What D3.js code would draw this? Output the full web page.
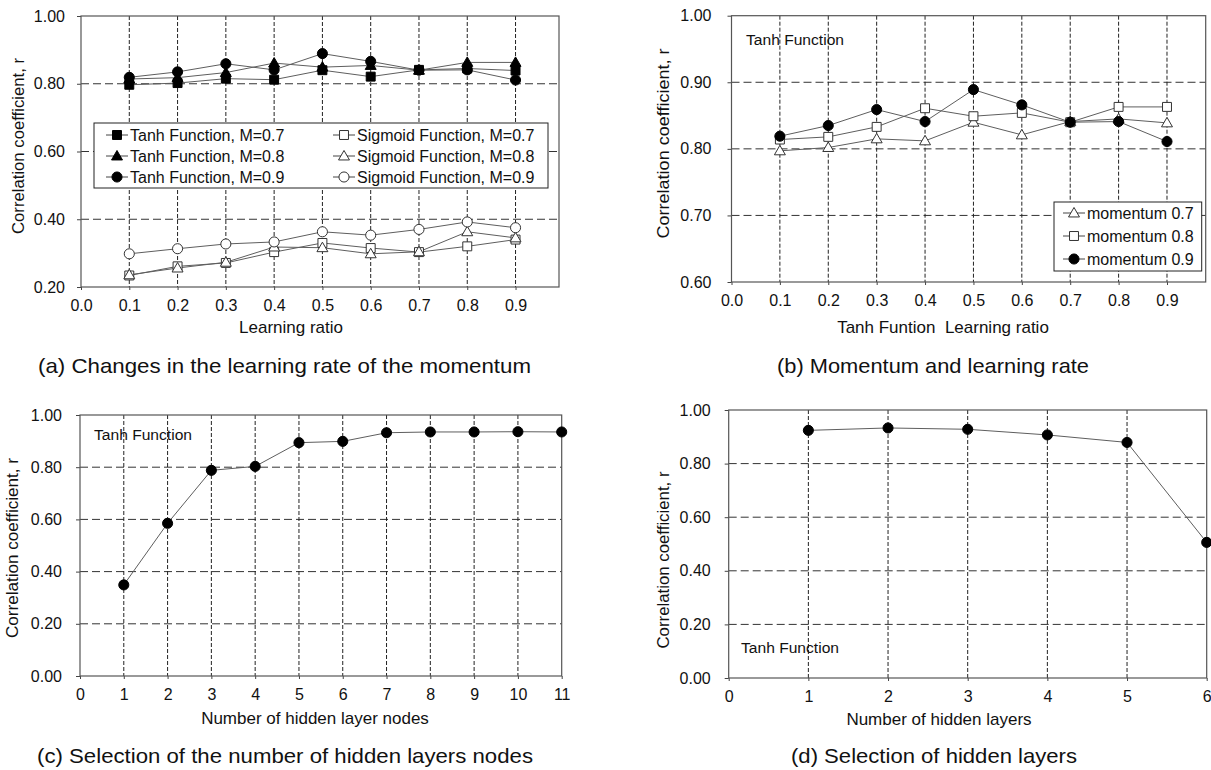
<!DOCTYPE html>
<html>
<head>
<meta charset="utf-8">
<script src="https://cdn.jsdelivr.net/npm/d3@7"></script>
<style>
  body { margin: 0; background: #fff; }
  svg text { font-family: Arial, "Liberation Sans", sans-serif; fill: #111; }
</style>
</head>
<body>
<div id="chart"></div>
<script>
// Learning ratio (x of panels a and b)
const learningRatio = [0.1, 0.2, 0.3, 0.4, 0.5, 0.6, 0.7, 0.8, 0.9];
const ratioTicks = [0, 0.1, 0.2, 0.3, 0.4, 0.5, 0.6, 0.7, 0.8, 0.9];

// Tanh function, momentum 0.7 / 0.8 / 0.9
const tanhM07 = [0.797, 0.802, 0.815, 0.812, 0.840, 0.821, 0.841, 0.845, 0.839];
const tanhM08 = [0.814, 0.818, 0.833, 0.861, 0.849, 0.854, 0.840, 0.863, 0.863];
const tanhM09 = [0.819, 0.835, 0.859, 0.841, 0.889, 0.866, 0.840, 0.841, 0.811];

// Sigmoid function, momentum 0.7 / 0.8 / 0.9
const sigM07 = [0.234, 0.261, 0.271, 0.303, 0.330, 0.315, 0.303, 0.320, 0.340];
const sigM08 = [0.236, 0.256, 0.273, 0.318, 0.316, 0.298, 0.304, 0.363, 0.345];
const sigM09 = [0.298, 0.313, 0.327, 0.333, 0.363, 0.353, 0.370, 0.392, 0.375];

// Hidden layer nodes (panel c)
const hiddenNodes = [1, 2, 3, 4, 5, 6, 7, 8, 9, 10, 11];
const nodeCorr = [0.349, 0.585, 0.788, 0.803, 0.894, 0.899, 0.932, 0.935, 0.935, 0.936, 0.935];
const nodeTicks = [0, 1, 2, 3, 4, 5, 6, 7, 8, 9, 10, 11];

// Hidden layers (panel d)
const hiddenLayers = [1, 2, 3, 4, 5, 6];
const layerCorr = [0.924, 0.933, 0.928, 0.907, 0.879, 0.506];
const layerTicks = [0, 1, 2, 3, 4, 5, 6];

const corrTicksA = [0.2, 0.4, 0.6, 0.8, 1.0];
const corrTicksB = [0.6, 0.7, 0.8, 0.9, 1.0];
const corrTicksCD = [0, 0.2, 0.4, 0.6, 0.8, 1.0];

const svg = d3.select("#chart")
  .append("svg")
  .attr("width", 1211)
  .attr("height", 770);

// marker shapes like Excel
const symbolOf = { square: d3.symbolSquare, triangle: d3.symbolTriangle, circle: d3.symbolCircle };
const sizeOf = { square: 80, triangle: 52, circle: 80 };

function drawMarker(g, shape, filled, cx, cy) {
  g.append("path")
    .attr("d", d3.symbol().type(symbolOf[shape]).size(sizeOf[shape])())
    .attr("transform", `translate(${cx},${cy + (shape === "triangle" ? 0.8 : 0)})`)
    .attr("fill", filled ? "#000" : "#fff")
    .attr("stroke", filled ? "#000" : "#333")
    .attr("stroke-width", 1);
}

function drawPanel(p) {
  const g = svg.append("g");
  const x = d3.scaleLinear().domain(p.xDomain).range([p.left, p.right]);
  const y = d3.scaleLinear().domain(p.yDomain).range([p.bottom, p.top]);

  // horizontal gridlines (long dashes)
  g.selectAll(".hgrid")
    .data(p.yTicks.filter(d => d > p.yDomain[0] && d < p.yDomain[1]))
    .enter().append("line")
    .attr("x1", p.left).attr("x2", p.right)
    .attr("y1", d => y(d)).attr("y2", d => y(d))
    .attr("stroke", "#333").attr("stroke-width", 1)
    .attr("stroke-dasharray", "8,4");

  // vertical gridlines (short dashes)
  g.selectAll(".vgrid")
    .data(p.xTicks.filter(d => x(d) > p.left + 1 && x(d) < p.right - 1))
    .enter().append("line")
    .attr("x1", d => x(d)).attr("x2", d => x(d))
    .attr("y1", p.top).attr("y2", p.bottom)
    .attr("stroke", "#222").attr("stroke-width", 1)
    .attr("stroke-dasharray", "4,2");

  // y axis
  const yAxis = g.append("g")
    .attr("transform", `translate(${p.left},0)`)
    .call(d3.axisLeft(y).tickValues(p.yTicks).tickFormat(d3.format(".2f"))
      .tickSize(4).tickPadding(p.yPad));
  yAxis.select(".domain").remove();
  yAxis.selectAll("line").attr("stroke", "#444");
  yAxis.selectAll("text").attr("font-size", 16).attr("font-family", "Arial, 'Liberation Sans', sans-serif").attr("fill", "#111");

  // x axis
  const xAxis = g.append("g")
    .attr("transform", `translate(0,${p.bottom})`)
    .call(d3.axisBottom(x).tickValues(p.xTicks).tickFormat(p.xFmt)
      .tickSize(3).tickPadding(10));
  xAxis.select(".domain").remove();
  xAxis.selectAll("line").attr("stroke", "#444");
  xAxis.selectAll("text").attr("font-size", 16).attr("font-family", "Arial, 'Liberation Sans', sans-serif").attr("fill", "#111");

  // plot border
  g.append("rect")
    .attr("x", p.left).attr("y", p.top)
    .attr("width", p.right - p.left).attr("height", p.bottom - p.top)
    .attr("fill", "none").attr("stroke", "#555").attr("stroke-width", 1.2);

  // series
  const line = d3.line().x(d => x(d[0])).y(d => y(d[1]));
  p.series.forEach(s => {
    const pts = p.xValues.map((v, i) => [v, s.values[i]]);
    g.append("path")
      .datum(pts)
      .attr("fill", "none")
      .attr("stroke", "#5e5e5e")
      .attr("stroke-width", 1)
      .attr("d", line);
  });
  p.series.forEach(s => {
    p.xValues.forEach((v, i) => drawMarker(g, s.shape, s.filled, x(v), y(s.values[i])));
  });

  // axis titles
  g.append("text")
    .attr("x", p.xTitlePos[0]).attr("y", p.xTitlePos[1])
    .attr("text-anchor", "middle")
    .attr("font-size", 17)
    .attr("xml:space", "preserve")
    .text(p.xTitle);

  g.append("text")
    .attr("transform", `translate(${p.yTitlePos[0]},${p.yTitlePos[1]}) rotate(-90)`)
    .attr("text-anchor", "middle")
    .attr("dy", "0.35em")
    .attr("font-size", 16.5)
    .attr("textLength", p.yTitleLen)
    .attr("lengthAdjust", "spacingAndGlyphs")
    .text("Correlation coefficient, r");

  // caption
  g.append("text")
    .attr("x", p.caption.x).attr("y", p.caption.y)
    .attr("font-family", "'Liberation Sans Narrow', 'DejaVu Sans Condensed', Arial, sans-serif")
    .attr("font-size", 21)
    .attr("textLength", p.caption.len)
    .attr("lengthAdjust", "spacingAndGlyphs")
    .text(p.caption.text);

  if (p.note) {
    g.append("text")
      .attr("x", p.note[0]).attr("y", p.note[1])
      .attr("font-size", 15.5)
      .attr("textLength", 98)
      .attr("lengthAdjust", "spacingAndGlyphs")
      .text("Tanh Function");
  }

  if (p.legend) {
    const L = p.legend;
    g.append("rect")
      .attr("x", L.x).attr("y", L.y).attr("width", L.w).attr("height", L.h)
      .attr("fill", "#fff").attr("stroke", "#222").attr("stroke-width", 1);
    L.items.forEach(it => {
      g.append("line")
        .attr("x1", it.x).attr("x2", it.x + 22)
        .attr("y1", it.y).attr("y2", it.y)
        .attr("stroke", "#444").attr("stroke-width", 1);
      drawMarker(g, it.shape, it.filled, it.x + 11, it.y);
      g.append("text")
        .attr("x", it.x + 24).attr("y", it.y)
        .attr("dy", "0.36em")
        .attr("font-size", 16)
        .text(it.label);
    });
  }
}

const fmt1 = d3.format(".1f");

// (a)
drawPanel({
  left: 81, right: 559, top: 16, bottom: 287,
  xDomain: [0, 0.99], yDomain: [0.2, 1.0],
  xTicks: ratioTicks, yTicks: corrTicksA, xFmt: fmt1, yPad: 12,
  xValues: learningRatio,
  series: [
    { values: tanhM07, shape: "square", filled: true },
    { values: tanhM08, shape: "triangle", filled: true },
    { values: tanhM09, shape: "circle", filled: true },
    { values: sigM07, shape: "square", filled: false },
    { values: sigM08, shape: "triangle", filled: false },
    { values: sigM09, shape: "circle", filled: false }
  ],
  xTitle: "Learning ratio", xTitlePos: [291, 333],
  yTitlePos: [18.5, 146], yTitleLen: 176,
  caption: { text: "(a) Changes in the learning rate of the momentum", x: 38, y: 373, len: 493 },
  legend: {
    x: 94, y: 123, w: 454, h: 65,
    items: [
      { x: 106, y: 135, shape: "square", filled: true, label: "Tanh Function, M=0.7" },
      { x: 106, y: 156, shape: "triangle", filled: true, label: "Tanh Function, M=0.8" },
      { x: 106, y: 177, shape: "circle", filled: true, label: "Tanh Function, M=0.9" },
      { x: 333, y: 135, shape: "square", filled: false, label: "Sigmoid Function, M=0.7" },
      { x: 333, y: 156, shape: "triangle", filled: false, label: "Sigmoid Function, M=0.8" },
      { x: 333, y: 177, shape: "circle", filled: false, label: "Sigmoid Function, M=0.9" }
    ]
  }
});

// (b)
drawPanel({
  left: 731.5, right: 1205.7, top: 15.7, bottom: 282,
  xDomain: [0, 0.98], yDomain: [0.6, 1.0],
  xTicks: ratioTicks, yTicks: corrTicksB, xFmt: fmt1, yPad: 16,
  xValues: learningRatio,
  series: [
    { values: tanhM07, shape: "triangle", filled: false },
    { values: tanhM08, shape: "square", filled: false },
    { values: tanhM09, shape: "circle", filled: true }
  ],
  xTitle: "Tanh Funtion  Learning ratio", xTitlePos: [943, 333],
  yTitlePos: [663.5, 143.5], yTitleLen: 190,
  caption: { text: "(b) Momentum and learning rate", x: 777, y: 373, len: 312 },
  note: [746, 45],
  legend: {
    x: 1054, y: 202, w: 147.7, h: 69,
    items: [
      { x: 1063, y: 213, shape: "triangle", filled: false, label: "momentum 0.7" },
      { x: 1063, y: 236, shape: "square", filled: false, label: "momentum 0.8" },
      { x: 1063, y: 259, shape: "circle", filled: true, label: "momentum 0.9" }
    ]
  }
});

// (c)
drawPanel({
  left: 80, right: 561.7, top: 415, bottom: 676,
  xDomain: [0, 11], yDomain: [0, 1.0],
  xTicks: nodeTicks, yTicks: corrTicksCD, xFmt: d3.format("d"), yPad: 14,
  xValues: hiddenNodes,
  series: [{ values: nodeCorr, shape: "circle", filled: true }],
  xTitle: "Number of hidden layer nodes", xTitlePos: [315, 724],
  yTitlePos: [12, 548], yTitleLen: 180,
  caption: { text: "(c) Selection of the number of hidden layers nodes", x: 37, y: 763, len: 496 },
  note: [94, 440]
});

// (d)
drawPanel({
  left: 728.7, right: 1206.7, top: 410, bottom: 678,
  xDomain: [0, 6], yDomain: [0, 1.0],
  xTicks: layerTicks, yTicks: corrTicksCD, xFmt: d3.format("d"), yPad: 14,
  xValues: hiddenLayers,
  series: [{ values: layerCorr, shape: "circle", filled: true }],
  xTitle: "Number of hidden layers", xTitlePos: [939, 725],
  yTitlePos: [663.5, 560], yTitleLen: 177,
  caption: { text: "(d) Selection of hidden layers", x: 791, y: 763, len: 286 },
  note: [741, 653]
});
</script>
</body>
</html>
